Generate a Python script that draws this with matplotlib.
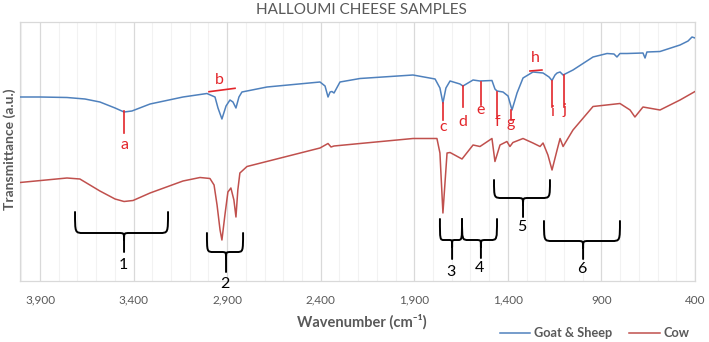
import numpy as np
import matplotlib.pyplot as plt
from matplotlib.path import Path
from matplotlib.patches import PathPatch

plt.rcParams["font.family"] = ["Lato", "DejaVu Sans"]

# FTIR spectra (wavenumber cm-1, transmittance a.u.)
goat_wn = [4007, 3900, 3756, 3660, 3580, 3499, 3451, 3409, 3312, 3136, 3008, 2965,
           2949, 2928, 2906, 2885, 2869, 2853, 2837, 2821, 2687, 2404, 2377, 2361,
           2350, 2340, 2329, 2297, 2190, 1907, 1789, 1763, 1747, 1731, 1709, 1656,
           1640, 1613, 1586, 1549, 1485, 1469, 1458, 1426, 1399, 1378, 1362, 1351,
           1319, 1266, 1212, 1180, 1164, 1148, 1137, 1121, 1105, 1052, 945, 870,
           833, 817, 801, 763, 678, 667, 657, 587, 480, 437, 416, 400]
goat_t = [184, 184, 183.5, 182, 179, 173, 169, 170, 177, 184, 187.5, 184,
          173, 162, 175, 181, 179, 173, 184, 189, 194, 199, 195, 184,
          189, 189.5, 188, 199, 202.5, 206, 202, 193, 178, 193, 200, 197,
          195, 198, 201, 200, 200.5, 192, 190, 189, 185, 171, 181, 188,
          203, 209, 208, 204, 200.5, 206, 208, 209, 206, 211, 224, 227.5,
          227, 224, 227.5, 227.5, 228, 223, 229, 229.5, 236, 240, 244, 243]

cow_wn = [4007, 3756, 3687, 3580, 3499, 3451, 3403, 3312, 3136, 3045, 2992, 2970,
          2954, 2938, 2928, 2912, 2896, 2880, 2864, 2853, 2843, 2832, 2794, 2404,
          2361, 2345, 2329, 2190, 1907, 1779, 1763, 1747, 1725, 1709, 1645, 1586,
          1549, 1485, 1469, 1442, 1405, 1389, 1373, 1319, 1266, 1228, 1212, 1186,
          1164, 1137, 1121, 1105, 1052, 945, 801, 747, 721, 678, 587, 480, 400]
cow_t = [98.5, 103, 102, 90, 82, 79.5, 80.5, 88, 100, 103.5, 102.5, 96,
         76, 51, 41, 66, 89, 93, 81, 64, 91, 108, 114.5, 133,
         137.5, 134, 135, 137.5, 142.5, 142.5, 128, 68, 128, 128.5, 122, 136,
         134.5, 142.5, 119.5, 136, 139.5, 134.5, 138.5, 142.5, 138, 134.5, 138, 126,
         111, 131, 142.5, 134.5, 151, 174.5, 177.5, 171, 164, 174, 171, 181, 189.5]

x_ticks = [3900, 3400, 2900, 2400, 1900, 1400, 900, 400]
x_tick_labels = ["3,900", "3,400", "2,900", "2,400", "1,900", "1,400", "900", "400"]

# peak markers: letter, wavenumber, line top, line bottom, letter y
peak_marks = [("a", 3451, 170, 148, 136), ("c", 1747, 178, 161, 154),
              ("d", 1640, 195, 174, 159), ("e", 1544, 199, 176, 171),
              ("f", 1458, 189, 164, 159), ("g", 1383, 171, 161, 158),
              ("i", 1164, 200, 174, 169), ("j", 1100, 206, 174, 171)]
# band markers drawn as short horizontal bars: letter, x0, x1, y0, y1, letter x, letter y
band_marks = [("b", 2997, 2858, 189.3, 192.7, 2944, 201),
              ("h", 1282, 1218, 210, 211, 1255, 223)]
# region braces: label, left end, right end, centre, top, bar, tip, label y
braces = [("1", 3713, 3216, 3451, 69, 48, 29, 16),
          ("2", 3008, 2815, 2906, 48, 29, 9, -3),
          ("3", 1763, 1645, 1698, 62, 41, 22, 9),
          ("4", 1645, 1458, 1544, 62, 41, 23, 13),
          ("5", 1474, 1175, 1319, 101, 83, 64, 54),
          ("6", 1207, 801, 998, 60, 40, 22, 12)]

BLUE = "#4F81BD"
COW_RED = "#C0504D"
MARK_RED = "#E3262B"
GRAY = "#595959"
GRID = "#D9D9D9"


def draw_brace(ax, x0, x1, xc, ytop, ybar, ytip):
    s = 1 if x1 > x0 else -1
    dx = min(45, 0.35 * abs(xc - x0))
    dc = min(30, 0.25 * abs(xc - x0))
    dy = 7
    verts = [(x0, ytop), (x0, ybar), (x0, ybar), (x0 + s * dx, ybar),
             (xc - s * dc, ybar), (xc, ybar), (xc, ybar), (xc, ybar - dy),
             (xc, ytip),
             (xc, ybar - dy), (xc, ybar), (xc, ybar), (xc + s * dc, ybar),
             (x1 - s * dx, ybar), (x1, ybar), (x1, ybar), (x1, ytop)]
    codes = [Path.MOVETO, Path.CURVE4, Path.CURVE4, Path.CURVE4,
             Path.LINETO, Path.CURVE4, Path.CURVE4, Path.CURVE4,
             Path.LINETO,
             Path.MOVETO, Path.CURVE4, Path.CURVE4, Path.CURVE4,
             Path.LINETO, Path.CURVE4, Path.CURVE4, Path.CURVE4]
    ax.add_patch(PathPatch(Path(verts, codes), fill=False, edgecolor="black",
                           lw=1.4, capstyle="round", clip_on=False, zorder=4))


fig = plt.figure(figsize=(7.09, 3.42), dpi=100)
ax = fig.add_axes([20 / 709, 1 - 281 / 342, 675 / 709, 259 / 342])
ax.set_xlim(4007, 400)
ax.set_ylim(0, 259)

for sp in ax.spines.values():
    sp.set_color(GRID)
    sp.set_linewidth(0.9)
ax.set_xticks(x_ticks)
ax.set_xticklabels(x_tick_labels)
ax.set_xticks(np.arange(4000, 400, -100), minor=True)
ax.set_yticks([])
ax.grid(which="major", axis="x", color=GRID, lw=0.9)
ax.grid(which="minor", axis="x", color="#F2F2F2", lw=0.8)
ax.set_axisbelow(True)
ax.tick_params(axis="x", which="both", length=0, pad=10, labelsize=8.5, labelcolor=GRAY)

goat_line, = ax.plot(goat_wn, goat_t, color=BLUE, lw=1.1, zorder=3)
cow_line, = ax.plot(cow_wn, cow_t, color=COW_RED, lw=1.1, zorder=3)

for letter, wn, ya, yb, yl in peak_marks:
    ax.plot([wn, wn], [ya, yb], color=MARK_RED, lw=1.2, zorder=4)
    ax.text(wn, yl, letter, color=MARK_RED, fontsize=11.5, ha="center", va="center")
for letter, xa, xb, ya, yb, xl, yl in band_marks:
    ax.plot([xa, xb], [ya, yb], color=MARK_RED, lw=1.2, zorder=4)
    ax.text(xl, yl, letter, color=MARK_RED, fontsize=11.5, ha="center", va="center")

for label, x0, x1, xc, ytop, ybar, ytip, yl in braces:
    draw_brace(ax, x0, x1, xc, ytop, ybar, ytip)
    ax.text(xc + 5, yl, label, color="black", fontsize=11.5, ha="center", va="center",
            clip_on=False)

fig.text(0.51, 1 - 10 / 342, "HALLOUMI CHEESE SAMPLES", color=GRAY, fontsize=11,
         ha="center", va="center")
fig.text(0.51, 1 - 322 / 342, "Wavenumber (cm\u207b\u00b9)", color=GRAY, fontsize=10.5,
         fontweight="bold", ha="center", va="center")
fig.text(10 / 709, 1 - 149 / 342, "Transmittance (a.u.)", color=GRAY, fontsize=10,
         fontweight="bold", rotation=90, ha="center", va="center")

leg = fig.legend([goat_line, cow_line], ["Goat & Sheep", "Cow"], ncol=2, frameon=False,
                 loc="center right", bbox_to_anchor=(701 / 709, 1 - 333 / 342),
                 handlelength=2.4, handletextpad=0.3, columnspacing=1.3,
                 prop={"size": 9.2, "weight": "bold"})
for t in leg.get_texts():
    t.set_color(GRAY)

fig.savefig("out.png", dpi=100)
